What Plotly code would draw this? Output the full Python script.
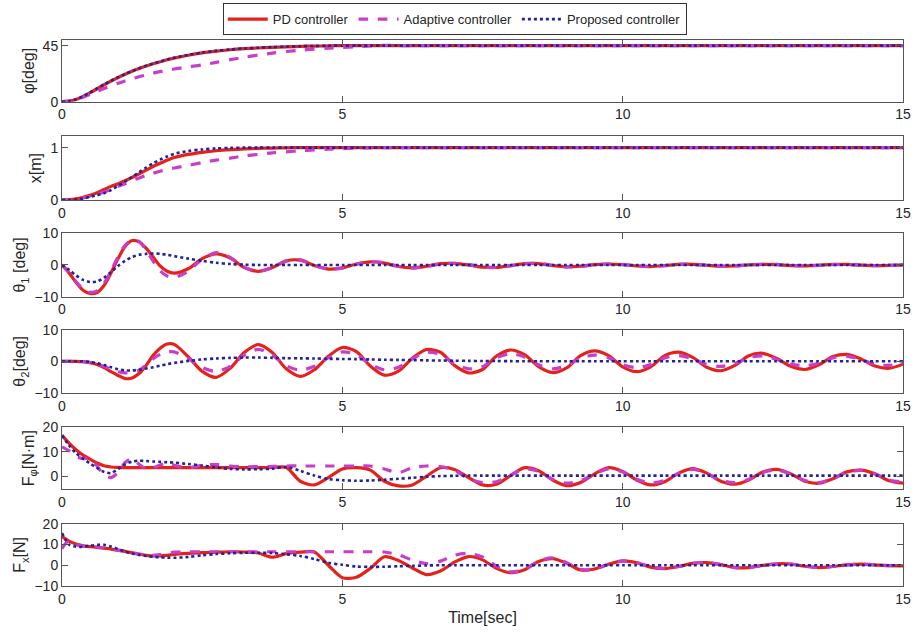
import plotly.graph_objects as go
from plotly.subplots import make_subplots

# ---------------- data ----------------
TIME = [0, 0.125, 0.25, 0.375, 0.5, 0.625, 0.75, 0.875, 1.0, 1.125, 1.25, 1.375, 1.5, 1.625, 1.75, 1.875, 2.0,
        2.25, 2.5, 2.75, 3.0, 3.25, 3.5, 3.75, 4.0, 4.25, 4.5, 4.75, 5.0, 5.25, 5.5, 5.75, 6.0,
        6.25, 6.5, 6.75, 7.0, 7.25, 7.5, 7.75, 8.0, 8.25, 8.5, 8.75, 9.0, 9.25, 9.5, 9.75, 10.0,
        10.25, 10.5, 10.75, 11.0, 11.25, 11.5, 11.75, 12.0, 12.25, 12.5, 12.75, 13.0,
        13.25, 13.5, 13.75, 14.0, 14.25, 14.5, 14.75, 15.0]

REF_PHI = 45
REF_X = 1

PHI_PD = [0, 0.4, 1.8, 4.2, 7.2, 10.4, 13.6, 16.6, 19.4, 22.0, 24.4, 26.6, 28.6, 30.4, 32.0, 33.6, 35.0,
          37.3, 39.2, 40.6, 41.7, 42.5, 43.1, 43.6, 44.0, 44.4, 44.6, 44.8, 45.0,
          45, 45, 45, 45, 45, 45, 45, 45, 45, 45, 45, 45, 45, 45, 45, 45, 45, 45, 45, 45,
          45, 45, 45, 45, 45, 45, 45, 45, 45, 45, 45, 45, 45, 45, 45, 45, 45, 45, 45, 45]
PHI_AD = [0, 0.4, 1.6, 3.5, 5.8, 8.2, 10.6, 12.8, 14.8, 16.6, 18.4, 20.0, 21.5, 22.9, 24.1, 25.2, 26.2,
          27.9, 29.5, 31.6, 33.7, 35.6, 37.4, 39.0, 40.3, 41.3, 42.2, 42.9, 43.5,
          44.0, 44.7, 45.3, 45.0, 45, 45, 45, 45, 45, 45, 45, 45, 45, 45, 45, 45, 45, 45, 45, 45,
          45, 45, 45, 45, 45, 45, 45, 45, 45, 45, 45, 45, 45, 45, 45, 45, 45, 45, 45, 45]
PHI_PROP = [0, 0.4, 1.9, 4.4, 7.4, 10.6, 13.8, 16.8, 19.6, 22.2, 24.6, 26.8, 28.8, 30.6, 32.2, 33.8, 35.2,
            37.5, 39.4, 40.8, 41.9, 42.7, 43.3, 43.8, 44.2, 44.5, 44.7, 44.9, 45.0,
            45, 45, 45, 45, 45, 45, 45, 45, 45, 45, 45, 45, 45, 45, 45, 45, 45, 45, 45, 45,
            45, 45, 45, 45, 45, 45, 45, 45, 45, 45, 45, 45, 45, 45, 45, 45, 45, 45, 45, 45]

X_PD = [0, 0.005, 0.02, 0.05, 0.09, 0.14, 0.2, 0.26, 0.31, 0.37, 0.43, 0.5, 0.57, 0.64, 0.7, 0.76, 0.81,
        0.87, 0.91, 0.94, 0.96, 0.975, 0.985, 0.992, 0.997, 1, 1, 1, 1,
        1, 1, 1, 1, 1, 1, 1, 1, 1, 1, 1, 1, 1, 1, 1, 1, 1, 1, 1, 1,
        1, 1, 1, 1, 1, 1, 1, 1, 1, 1, 1, 1, 1, 1, 1, 1, 1, 1, 1, 1]
X_AD = [0, 0.004, 0.015, 0.04, 0.07, 0.11, 0.15, 0.2, 0.26, 0.31, 0.37, 0.42, 0.47, 0.51, 0.55, 0.585, 0.61,
        0.66, 0.715, 0.76, 0.8, 0.84, 0.87, 0.9, 0.92, 0.94, 0.955, 0.97, 0.98,
        0.99, 0.995, 1, 1, 1, 1, 1, 1, 1, 1, 1, 1, 1, 1, 1, 1, 1, 1, 1, 1,
        1, 1, 1, 1, 1, 1, 1, 1, 1, 1, 1, 1, 1, 1, 1, 1, 1, 1, 1, 1]
X_PROP = [0, 0.003, 0.01, 0.03, 0.06, 0.09, 0.13, 0.19, 0.27, 0.35, 0.44, 0.53, 0.62, 0.7, 0.77, 0.83, 0.88,
          0.935, 0.965, 0.985, 0.995, 1, 1, 1, 1, 1, 1, 1, 1,
          1, 1, 1, 1, 1, 1, 1, 1, 1, 1, 1, 1, 1, 1, 1, 1, 1, 1, 1, 1,
          1, 1, 1, 1, 1, 1, 1, 1, 1, 1, 1, 1, 1, 1, 1, 1, 1, 1, 1, 1]

TH1_PD = [0, -2.5, -5.5, -8.0, -9.0, -8.7, -6.5, -2.5, 2.0, 5.8, 7.7, 7.3, 5.3, 2.5, -0.3, -2.0, -2.6,
          -1.2, 2.0, 3.5, 2.2, -0.8, -2.0, -0.8, 1.3, 1.5, -0.2, -1.3, -0.9,
          0.3, 1.0, 0.6, -0.5, -0.9, -0.4, 0.4, 0.5, 0.0, -0.7, -0.8, -0.2,
          0.4, 0.4, -0.2, -0.6, -0.4, 0.1, 0.3, 0.1, -0.3, -0.5, -0.2, 0.2,
          0.2, -0.1, -0.4, -0.3, 0.05, 0.2, 0.1, -0.2, -0.3, -0.1, 0.15, 0.15,
          -0.05, -0.2, -0.15, 0.0]
TH1_AD = [0, -2.3, -5.2, -7.6, -8.6, -8.2, -5.8, -1.8, 2.6, 6.2, 7.9, 7.4, 4.6, 1.2, -1.8, -3.5, -4.0,
          -2.0, 1.8, 3.9, 2.4, -0.7, -2.0, -0.9, 1.2, 1.6, -0.1, -1.3, -1.0,
          0.2, 1.0, 0.7, -0.4, -0.9, -0.5, 0.3, 0.5, 0.1, -0.6, -0.8, -0.3,
          0.4, 0.5, -0.1, -0.6, -0.5, 0.1, 0.3, 0.15, -0.3, -0.5, -0.25, 0.2,
          0.25, -0.1, -0.35, -0.3, 0.0, 0.2, 0.15, -0.15, -0.3, -0.15, 0.1, 0.15,
          0.0, -0.2, -0.15, 0.0]
TH1_PROP = [0, -1.5, -3.3, -4.7, -5.4, -5.2, -4.0, -2.2, -0.3, 1.3, 2.5, 3.2, 3.5, 3.6, 3.5, 3.2, 2.8,
            2.0, 1.3, 0.7, 0.3, 0.1, 0, 0, 0, 0, 0, 0, 0,
            0, 0, 0, 0, 0, 0, 0, 0, 0, 0, 0, 0, 0, 0, 0, 0, 0, 0, 0, 0,
            0, 0, 0, 0, 0, 0, 0, 0, 0, 0, 0, 0, 0, 0, 0, 0, 0, 0, 0, 0]

TH2_PD = [0, 0, 0, -0.1, -0.4, -1.0, -2.0, -3.3, -4.5, -5.5, -5.3, -3.9, -1.3, 1.9, 4.2, 5.5, 5.4,
          1.5, -3.2, -5.1, -2.2, 2.8, 5.3, 2.8, -2.4, -4.8, -2.7, 1.6, 4.4,
          3.1, -1.5, -4.4, -3.1, 1.0, 3.75, 2.9, -1.3, -3.7, -2.6, 1.7, 3.6,
          2.1, -1.7, -3.6, -2.1, 1.8, 3.3, 1.8, -1.75, -3.3, -1.75, 1.8, 2.9,
          1.24, -1.9, -3.0, -1.3, 1.8, 2.55, 0.9, -1.6, -2.6, -1.1, 1.5, 2.2,
          0.75, -1.5, -2.2, -0.9]
TH2_AD = [0, 0, 0, -0.1, -0.4, -0.9, -1.6, -2.5, -3.3, -3.7, -3.6, -2.8, -1.2, 0.8, 2.2, 3.0, 3.0,
          0.9, -2.0, -3.2, -1.6, 2.0, 3.8, 2.0, -1.4, -2.8, -1.6, 1.1, 3.0,
          2.1, -0.9, -2.7, -1.9, 0.8, 2.9, 2.2, -0.8, -2.4, -1.7, 1.1, 2.4,
          1.4, -1.1, -2.4, -1.4, 1.1, 2.0, 1.1, -1.05, -2.0, -1.05, 1.1, 1.8,
          0.8, -1.0, -1.6, -0.7, 1.2, 1.75, 0.6, -0.9, -1.4, -0.6, 1.1, 1.6,
          0.55, -0.9, -1.3, -0.5]
TH2_PROP = [0, 0, 0, 0, -0.2, -0.6, -1.2, -1.9, -2.5, -2.9, -2.9, -2.7, -2.3, -1.9, -1.4, -0.9, -0.5,
            0.1, 0.6, 0.9, 1.1, 1.2, 1.2, 1.1, 1.0, 0.95, 0.9, 0.8, 0.75,
            0.7, 0.6, 0.5, 0.45, 0.4, 0.3, 0.25, 0.2, 0.15, 0.1, 0.08, 0.05,
            0, 0, 0, 0, 0, 0, 0, 0, 0, 0, 0, 0, 0, 0, 0, 0, 0, 0, 0, 0, 0, 0, 0, 0, 0, 0, 0, 0]

FPHI_PD = [16.7, 13.5, 10.8, 8.6, 7.0, 5.4, 4.3, 3.8, 3.6, 3.5, 3.5, 3.5, 3.5, 3.5, 3.5, 3.5, 3.5,
           3.5, 3.5, 3.5, 3.5, 3.5, 3.5, 3.6, 3.6, -2.0, -3.5, -0.5, 3.0,
           3.5, 2.5, -2.0, -3.9, -3.5, 0.0, 3.5, 2.8, -0.5, -3.5, -3.2, 0.3,
           3.5, 2.3, -1.5, -3.8, -2.5, 1.0, 3.5, 2.0, -1.5, -3.5, -2.2, 1.3,
           3.1, 1.3, -2.0, -3.2, -1.5, 1.8, 2.8, 1.0, -2.0, -2.8, -1.0, 1.8,
           2.5, 1.0, -1.8, -2.8]
FPHI_AD = [12.0, 10.4, 8.1, 7.2, 7.2, 4.2, 0.6, -0.5, 1.6, 5.6, 7.2, 4.9, 3.1, 3.5, 4.6, 5.6, 4.5,
           3.5, 4.5, 4.8, 4.2, 3.8, 4.0, 4.0, 4.2, 4.2, 4.2, 4.2, 4.2,
           4.2, 4.2, 3.0, 1.5, 3.5, 4.2, 4.0, 2.5, -1.0, -2.5, -2.2, 0.5,
           3.0, 2.0, -1.2, -2.8, -1.8, 1.0, 3.0, 1.8, -1.2, -2.7, -1.7, 1.2,
           2.8, 1.2, -1.6, -2.6, -1.2, 1.6, 2.6, 0.9, -1.7, -2.5, -0.9, 1.6,
           2.4, 0.9, -1.5, -2.3]
FPHI_PROP = [16.7, 12.5, 9.4, 7.2, 5.2, 3.4, 1.8, 1.3, 3.0, 4.8, 6.0, 6.3, 6.2, 6.0, 5.9, 5.7, 5.6,
             5.0, 4.4, 3.6, 3.0, 2.8, 2.9, 3.1, 3.8, 2.2, 0.3, -1.1, -1.6,
             -1.8, -1.7, -1.4, -1.0, -0.6, -0.2, 0.1, 0.2, 0.3, 0.3, 0.3, 0.3,
             0.3, 0.3, 0.3, 0.3, 0.3, 0.3, 0.3, 0.3, 0.3, 0.3, 0.3, 0.3,
             0.3, 0.3, 0.3, 0.3, 0.3, 0.3, 0.3, 0.3, 0.3, 0.3, 0.3, 0.3,
             0.3, 0.3, 0.3, 0.3]

FX_PD = [13.8, 11.6, 10.2, 9.4, 9.0, 8.6, 8.2, 7.8, 7.3, 6.7, 6.0, 5.3, 4.8, 4.5, 4.5, 4.8, 5.2,
         5.7, 6.1, 6.3, 6.5, 6.4, 5.9, 3.9, 5.6, 6.3, 6.4, 0.0, -6.0,
         -5.8, -1.5, 4.1, 2.3, -1.3, -4.5, -2.8, 1.5, 4.2, 2.6, -1.5, -3.6,
         -2.2, 1.8, 3.2, 1.0, -2.3, -1.8, 0.5, 2.1, 1.2, -0.9, -1.6, -0.6,
         0.9, 1.3, 0.3, -1.1, -1.1, -0.1, 0.7, 0.6, -0.5, -1.1, -0.6, 0.2,
         0.5, 0.2, -0.2, -0.3]
FX_AD = [8.0, 12.0, 10.0, 9.2, 9.0, 8.7, 8.3, 7.8, 7.2, 6.6, 6.0, 5.4, 5.0, 4.8, 5.2, 5.8, 6.3,
         6.5, 6.5, 6.5, 6.5, 6.5, 6.5, 6.5, 6.5, 6.5, 6.5, 6.5, 6.5,
         6.5, 6.5, 6.4, 5.0, 2.5, 0.8, 2.0, 4.8, 5.7, 4.0, -0.5, -3.2,
         -2.0, 2.0, 3.5, 1.2, -2.0, -1.8, 0.5, 2.0, 1.3, -0.8, -1.5, -0.6,
         0.9, 1.3, 0.3, -1.0, -1.1, -0.1, 0.7, 0.6, -0.5, -1.0, -0.6, 0.2,
         0.5, 0.2, -0.2, -0.3]
FX_PROP = [15.5, 10.0, 9.0, 8.9, 9.4, 9.8, 9.8, 9.0, 7.8, 6.6, 5.7, 5.0, 4.5, 4.1, 3.8, 3.7, 3.6,
           4.0, 4.8, 5.4, 5.8, 6.0, 6.0, 5.9, 5.3, 4.5, 3.0, 1.2, 0.2,
           -0.6, -0.8, -0.7, -0.5, -0.3, -0.1, 0.0, 0.0, 0, 0, 0, 0,
           0, 0, 0, 0, 0, 0, 0, 0, 0, 0, 0, 0, 0, 0, 0, 0, 0, 0, 0, 0, 0, 0, 0, 0, 0, 0, 0, 0]

SERIES_NAMES = ["PD controller", "Adaptive controller", "Proposed controller"]
X_TICKS = [0, 5, 10, 15]
Y_LABELS = ["φ[deg]", "x[m]", "θ<sub>1</sub> [deg]", "θ<sub>2</sub>[deg]",
            "F<sub>φ</sub>[N·m]", "F<sub>x</sub>[N]"]
Y_RANGES = [[0, 49.5], [0, 1.22], [-10, 10], [-10, 10], [-5.3, 20], [-10, 20]]
Y_TICKS = [[0, 45], [0, 1], [-10, 0, 10], [-10, 0, 10], [0, 10, 20], [-10, 0, 10, 20]]
PANELS = [
    (PHI_PD, PHI_AD, PHI_PROP),
    (X_PD, X_AD, X_PROP),
    (TH1_PD, TH1_AD, TH1_PROP),
    (TH2_PD, TH2_AD, TH2_PROP),
    (FPHI_PD, FPHI_AD, FPHI_PROP),
    (FX_PD, FX_AD, FX_PROP),
]
REFS = [REF_PHI, REF_X, None, None, None, None]

# ---------------- styling ----------------
STYLES = [
    dict(color="#e3221c", width=3.2, dash="solid"),
    dict(color="#c83ec8", width=3.2, dash="dash"),
    dict(color="#23239c", width=2.6, dash="dot"),
]
DOMAINS = [[0.887, 1.0], [0.707, 0.824], [0.530, 0.646], [0.354, 0.469], [0.177, 0.291], [0.0, 0.114]]
AXCOL = "#555555"
TXTCOL = "#262626"
FONT = "Liberation Sans, Arial, sans-serif"

fig = make_subplots(rows=6, cols=1)

for r, (vals, ref) in enumerate(zip(PANELS, REFS), start=1):
    if ref is not None:
        fig.add_hline(y=ref, row=r, col=1, layer="below",
                      line=dict(color="black", width=1, dash="dot"))
    for k, (series, st) in enumerate(zip(vals, STYLES)):
        fig.add_trace(go.Scatter(
            x=TIME, y=series, mode="lines", name=SERIES_NAMES[k],
            legendgroup=SERIES_NAMES[k], showlegend=(r == 1),
            line=dict(color=st["color"], width=st["width"], dash=st["dash"],
                      shape="spline", smoothing=0.8),
        ), row=r, col=1)

for i in range(6):
    xa = "xaxis" if i == 0 else f"xaxis{i+1}"
    ya = "yaxis" if i == 0 else f"yaxis{i+1}"
    fig.layout[xa].update(
        domain=[0, 1], range=[0, 15], tickvals=X_TICKS, ticks="inside", ticklen=6,
        tickcolor=AXCOL, showline=True, linecolor=AXCOL, linewidth=1, mirror="allticks",
        showgrid=False, zeroline=False, tickfont=dict(size=14, color=TXTCOL, family=FONT),
    )
    fig.layout[ya].update(
        domain=DOMAINS[i], range=Y_RANGES[i], tickvals=Y_TICKS[i], ticks="inside", ticklen=6,
        tickcolor=AXCOL, showline=True, linecolor=AXCOL, linewidth=1, mirror="allticks",
        showgrid=False, zeroline=False, tickfont=dict(size=14, color=TXTCOL, family=FONT),
        title=dict(text=Y_LABELS[i], font=dict(size=16, color=TXTCOL, family=FONT), standoff=4),
    )

fig.layout["xaxis6"].title = dict(text="Time[sec]", font=dict(size=16, color=TXTCOL, family=FONT), standoff=6)

fig.update_layout(
    width=915, height=634,
    margin=dict(l=62, r=12, t=40, b=48, autoexpand=False),
    paper_bgcolor="white", plot_bgcolor="white",
    font=dict(family=FONT, color=TXTCOL),
    legend=dict(orientation="h", x=0.467, xanchor="center",
                yref="container", y=0.995, yanchor="top",
                bgcolor="white", bordercolor="#333333", borderwidth=1,
                font=dict(size=13, color=TXTCOL, family=FONT),
                itemwidth=40, tracegroupgap=0),
    showlegend=True,
)

fig.write_html("out.html", config={"displayModeBar": False},
               post_script="document.body.style.margin='0';document.body.style.overflow='hidden';")
